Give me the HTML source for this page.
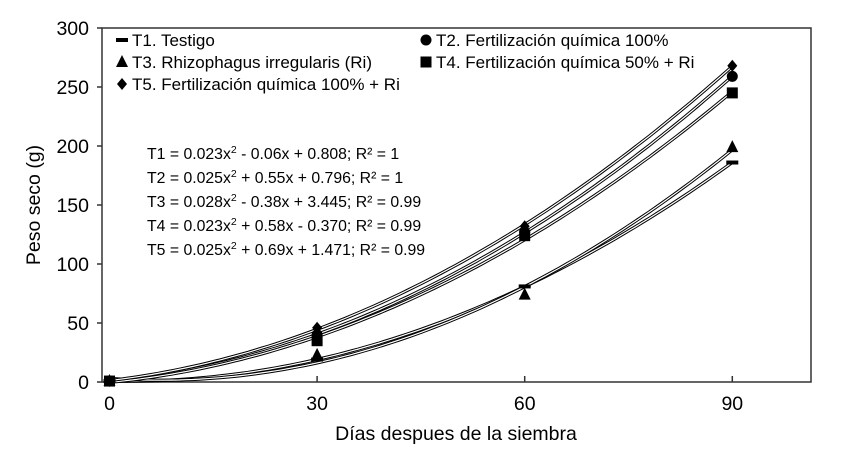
<!DOCTYPE html>
<html><head><meta charset="utf-8"><style>
body{margin:0;background:#fff}
svg text{font-family:"Liberation Sans",Arial,sans-serif;fill:#000}
</style></head><body>
<svg id="c" width="850" height="454">
<rect x="102" y="28" width="709" height="354" fill="none" stroke="#333" stroke-width="1.5"/>
<g id="g"></g>
</svg>
<script>
const days=[0,30,60,90];
const yTicks=[0,50,100,150,200,250,300];
const xTicks=[0,30,60,90];
const t1=[0.8,19,81,186];
const t2=[0.8,40,127,259];
const t3=[0.8,23,74,199];
const t4=[0.8,35,124,245];
const t5=[0.8,46,132,268];
const names=["t1","t2","t3","t4","t5"];
const series=[t1,t2,t3,t4,t5];
const X=d=>109.5+d*6.92, Y=v=>382-v*1.18;
const NS="http://www.w3.org/2000/svg", g=document.getElementById('g');
function el(t,a,txt){const e=document.createElementNS(NS,t);for(const k in a)e.setAttribute(k,a[k]);if(txt!=null)e.textContent=txt;g.appendChild(e);return e;}
function fit(xs,ys){
 let S=[0,0,0,0,0],T=[0,0,0];
 xs.forEach((x,i)=>{for(let k=0;k<5;k++)S[k]+=Math.pow(x,k);for(let k=0;k<3;k++)T[k]+=ys[i]*Math.pow(x,k);});
 const M=[[S[0],S[1],S[2],T[0]],[S[1],S[2],S[3],T[1]],[S[2],S[3],S[4],T[2]]];
 for(let i=0;i<3;i++){for(let j=i+1;j<3;j++){const f=M[j][i]/M[i][i];for(let k=i;k<4;k++)M[j][k]-=f*M[i][k];}}
 const r=[0,0,0];for(let i=2;i>=0;i--){let s=M[i][3];for(let k=i+1;k<3;k++)s-=M[i][k]*r[k];r[i]=s/M[i][i];}
 return r;
}
yTicks.forEach(v=>{
 const t=el('line',{x1:97,x2:102,y1:Y(v),y2:Y(v),stroke:'#333','stroke-width':1.5});
 
 
 const l=el('text',{x:89,y:Y(v)+7,'text-anchor':'end','font-size':19.5},v);
 
 
});
xTicks.forEach(v=>{
 const t=el('line',{x1:X(v),x2:X(v),y1:376,y2:382,stroke:'#333','stroke-width':1.5});
 
 
 const l=el('text',{x:X(v),y:410,'text-anchor':'middle','font-size':19.5},v);
 
 
});
series.forEach((s,i)=>{
 const c=fit(days,s);
 let d='';for(let x=0;x<=90;x+=1){const v=c[0]+c[1]*x+c[2]*x*x;d+=(x?'L':'M')+X(x).toFixed(1)+','+Y(Math.max(v,0)).toFixed(1);}
 const o=el('path',{d,fill:'none',stroke:'#000','stroke-width':3.2});
 
 
 const w=el('path',{d,fill:'none',stroke:'#fff','stroke-width':1.2});
 
 
});
function marker(i,cx,cy){
 let e;
 if(i==0)e=el('rect',{x:cx-6,y:cy-2,width:12,height:4});
 else if(i==1)e=el('circle',{cx,cy,r:5.5});
 else if(i==2)e=el('path',{d:`M${cx},${cy-7}L${cx+6},${cy+5}L${cx-6},${cy+5}Z`});
 else if(i==3)e=el('rect',{x:cx-5.5,y:cy-5.5,width:11,height:11});
 else e=el('path',{d:`M${cx},${cy-6}L${cx+5},${cy}L${cx},${cy+6}L${cx-5},${cy}Z`});
 e.setAttribute('fill','#000');return e;
}
series.forEach((s,i)=>s.forEach((v,j)=>{
 const m=marker(i,X(days[j]),Y(v));
 
 
}));
const legend=[["T1. Testigo",132,46],["T2. Fertilización química 100%",436,46],["T3. Rhizophagus irregularis (Ri)",132,68],["T4. Fertilización química 50% + Ri",436,68],["T5. Fertilización química 100% + Ri",132,90]];
legend.forEach((l,i)=>{
 const m=marker(i,l[1]-10,l[2]-6);
 
 
 const t=el('text',{x:l[1],y:l[2],'font-size':17},l[0]);
 
 
});
const eqs=[["T1 = 0.023x","2"," - 0.06x + 0.808; R² = 1",147,159],["T2 = 0.025x","2"," + 0.55x + 0.796; R² = 1",147,183],["T3 = 0.028x","2"," - 0.38x + 3.445; R² = 0.99",147,207],["T4 = 0.023x","2"," + 0.58x - 0.370; R² = 0.99",147,231],["T5 = 0.025x","2"," + 0.69x + 1.471; R² = 0.99",147,255]];
eqs.forEach((q,i)=>{
 const t=el('text',{x:q[3],y:q[4],'font-size':15.8});
 
 
 const a=document.createElementNS(NS,'tspan');a.textContent=q[0];t.appendChild(a);
 const b=document.createElementNS(NS,'tspan');b.textContent=q[1];b.setAttribute('dy','-6');b.setAttribute('font-size','10.5');t.appendChild(b);
 const c=document.createElementNS(NS,'tspan');c.textContent=q[2];c.setAttribute('dy','6');t.appendChild(c);
});
const xt=el('text',{x:456,y:440,'text-anchor':'middle','font-size':19.5},'Días despues de la siembra');


const yt=el('text',{x:0,y:0,'text-anchor':'middle','font-size':19.5,transform:'translate(40,205) rotate(-90)'},'Peso seco (g)');


</script>
</body></html>
